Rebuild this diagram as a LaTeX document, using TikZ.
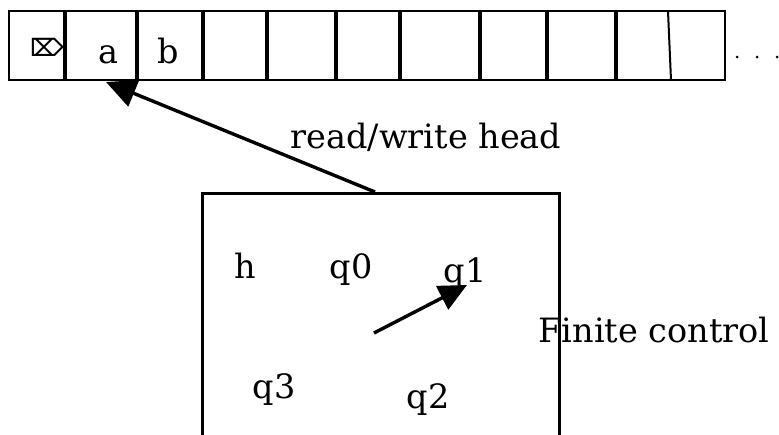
\documentclass[tikz,border=0pt]{standalone}
\usepackage{fontspec}
\setmainfont{DejaVu Serif}
\newfontfamily\symfont{DejaVu Sans}
\usetikzlibrary{arrows.meta}
\tikzset{
  lbl/.style={anchor=base, inner sep=0pt, font=\fontsize{33.5}{38}\selectfont},
  tapeline/.style={line width=3.4pt},
  boxline/.style={line width=2.8pt},
  headarrow/.style={line width=3.4pt, -{Triangle[length=30pt,width=28pt]}},
}
\begin{document}
\begin{tikzpicture}[x=1pt,y=-1pt]
\useasboundingbox (0,0) rectangle (779,434);
\clip (0,0) rectangle (779,434);
\fill[white] (0,0) rectangle (779,434);

% tape
\draw[line width=2.8pt] (9,11) rectangle (725,80);
\foreach \x in {65,137,203,267,336,400,480,547,616}
  \draw[tapeline] (\x,11) -- (\x,80);
\draw[line width=2pt] (668,11) -- (671,80);
\node[inner sep=0pt, font=\symfont\bfseries\fontsize{24}{28}\selectfont] (blank) at (47,47) {⌦};
\node[lbl] (cellA) at (108,63) {a};
\node[lbl] (cellB) at (168,63) {b};
\foreach \x in {737,757,777}
  \fill (\x,57) circle (1.5pt);

% finite control box
\node[draw, boxline, minimum width=357pt, minimum height=300pt, anchor=north west, inner sep=0pt] (control) at (201,192) {};
\node[lbl] (h) at (245,278) {h};
\node[lbl] (q0) at (351,278) {q0};
\node[lbl] (q1) at (465,282) {q1};
\node[lbl] (q3) at (274,398) {q3};
\node[lbl] (q2) at (428,408) {q2};
\node[lbl] (fc) at (654,342) {Finite control};
\node[lbl] (rw) at (426,148) {read/write head};

% head arrow and state arrow
\coordinate (headfoot) at (375,192);
\coordinate (headtip) at (106,82);
\draw[headarrow] (headfoot) -- (headtip);
\coordinate (statefoot) at (374,333);
\coordinate (statetip) at (467,285);
\draw[headarrow, -{Triangle[length=28pt,width=26pt]}] (statefoot) -- (statetip);
\end{tikzpicture}
\end{document}
